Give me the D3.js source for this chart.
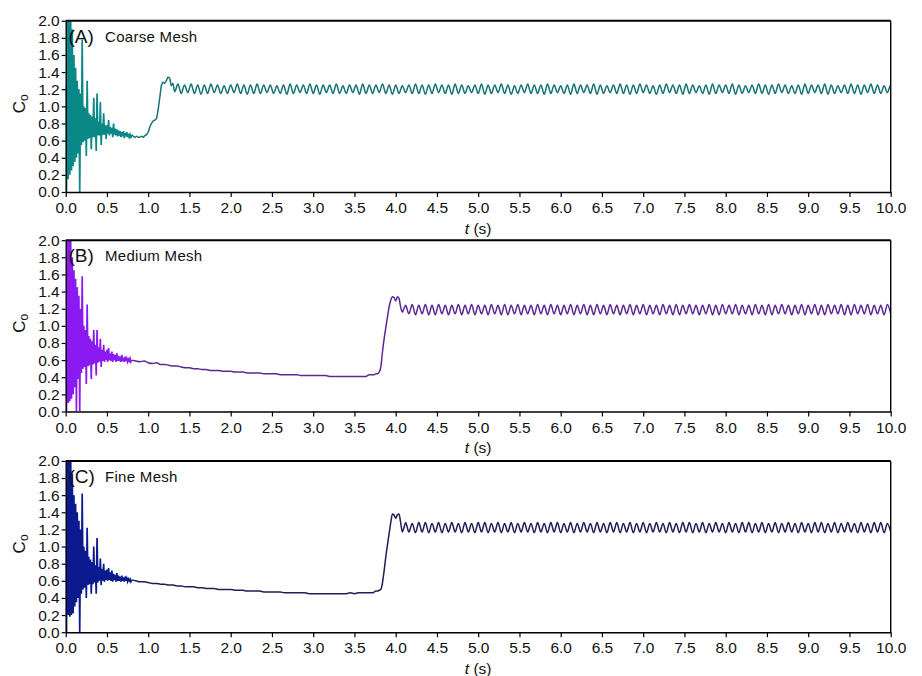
<!DOCTYPE html>
<html>
<head>
<meta charset="utf-8">
<script src="https://cdn.jsdelivr.net/npm/d3@7"></script>
<style>
  body { margin: 0; background: #fff; }
  text { font-family: "Liberation Sans", Arial, sans-serif; }
</style>
</head>
<body>
<script>
//size of the page
var width = 922;
var height = 676;

//tick labels for both axes
var xTickValues = [0, 0.5, 1, 1.5, 2, 2.5, 3, 3.5, 4, 4.5, 5, 5.5, 6, 6.5, 7,
                   7.5, 8, 8.5, 9, 9.5, 10];
var yTickValues = [0, 0.2, 0.4, 0.6, 0.8, 1.0, 1.2, 1.4, 1.6, 1.8, 2.0];

//panel labels
var panelLetters = ["(A)", "(B)", "(C)"];
var panelNames = ["Coarse Mesh", "Medium Mesh", "Fine Mesh"];

//(A) coarse mesh: start-up transient, 0.01 s apart from t = 0
var coarseEarly = [1.25, 0.00, 2.20, 0.15, 2.20, 0.20, 2.10, 0.25, 1.90, 0.30,
                   1.60, 0.35, 1.45, 0.40, 1.30, 0.45, 1.20, 0.00, 1.15, 0.55,
                   1.78, 0.58, 1.00, 0.60, 0.98, 0.42, 1.30, 0.62, 0.92, 0.63,
                   0.90, 0.50, 0.88, 0.64, 1.10, 0.64, 0.86, 0.48, 1.15, 0.66,
                   0.82, 0.66, 1.05, 0.55, 0.80, 0.67, 0.92, 0.67, 0.78, 0.62,
                   0.78, 0.68, 0.84, 0.66, 0.76, 0.68, 0.75, 0.64, 0.80, 0.67,
                   0.74, 0.66, 0.73, 0.65, 0.72, 0.66, 0.71, 0.64, 0.70, 0.65,
                   0.71, 0.63, 0.69, 0.65, 0.70, 0.64, 0.68, 0.64, 0.67, 0.63,
                   0.67];
//(A) flat part and jump, 0.02 s apart from t = 0.82
var coarseRise = [0.65, 0.64, 0.65, 0.64, 0.64, 0.65, 0.64, 0.66, 0.67, 0.70,
                  0.76, 0.80, 0.83, 0.84, 0.86, 0.96, 1.10, 1.24, 1.28, 1.27,
                  1.30, 1.34, 1.33, 1.24, 1.27];
//(A) steady oscillation, troughs and peaks 0.04 s apart from t = 1.32
var coarseWave = [1.17, 1.26, 1.15, 1.25, 1.16, 1.26, 1.15, 1.25, 1.14, 1.25,
                  1.15, 1.26, 1.16, 1.25, 1.15, 1.24, 1.15, 1.25, 1.16, 1.26,
                  1.15, 1.25, 1.14, 1.25, 1.15, 1.26, 1.15, 1.25, 1.16, 1.25,
                  1.15, 1.24, 1.15, 1.25, 1.14, 1.26, 1.15, 1.25, 1.16, 1.25,
                  1.15, 1.26, 1.15, 1.25, 1.14, 1.25, 1.16, 1.25, 1.15, 1.26,
                  1.15, 1.24, 1.15, 1.25, 1.16, 1.25, 1.14, 1.26, 1.15, 1.25,
                  1.15, 1.25, 1.16, 1.26, 1.15, 1.25, 1.14, 1.25, 1.15, 1.24,
                  1.16, 1.25, 1.15, 1.26, 1.15, 1.25, 1.14, 1.25, 1.15, 1.26,
                  1.16, 1.25, 1.15, 1.25, 1.14, 1.26, 1.15, 1.25, 1.15, 1.24,
                  1.16, 1.25, 1.15, 1.26, 1.14, 1.25, 1.15, 1.25, 1.16, 1.26,
                  1.15, 1.25, 1.14, 1.24, 1.15, 1.25, 1.16, 1.26, 1.15, 1.25,
                  1.15, 1.25, 1.14, 1.26, 1.15, 1.25, 1.16, 1.24, 1.15, 1.25,
                  1.14, 1.26, 1.15, 1.25, 1.16, 1.25, 1.15, 1.26, 1.14, 1.25,
                  1.15, 1.24, 1.16, 1.25, 1.15, 1.26, 1.15, 1.25, 1.14, 1.25,
                  1.15, 1.26, 1.16, 1.25, 1.15, 1.24, 1.14, 1.25, 1.15, 1.26,
                  1.16, 1.25, 1.15, 1.25, 1.14, 1.26, 1.15, 1.25, 1.16, 1.24,
                  1.15, 1.25, 1.14, 1.26, 1.15, 1.25, 1.16, 1.25, 1.15, 1.26,
                  1.14, 1.25, 1.15, 1.24, 1.16, 1.25, 1.15, 1.26, 1.15, 1.25,
                  1.14, 1.25, 1.15, 1.26, 1.16, 1.25, 1.15, 1.24, 1.15, 1.25,
                  1.14, 1.26, 1.15, 1.25, 1.16, 1.25, 1.15, 1.26, 1.14, 1.25,
                  1.15, 1.24, 1.16, 1.25, 1.15, 1.26, 1.15, 1.25, 1.14, 1.25,
                  1.16, 1.26, 1.15, 1.25, 1.15, 1.24, 1.16, 1.25, 1.15, 1.25];

//(B) medium mesh: start-up transient, 0.01 s apart from t = 0
var mediumEarly = [0.80, 0.00, 2.20, 0.10, 2.20, 0.12, 2.10, 0.15, 1.80, 0.20,
                   1.65, 0.28, 1.55, 0.00, 1.45, 0.38, 1.35, 0.00, 1.20, 0.45,
                   1.58, 0.50, 1.00, 0.52, 0.95, 0.32, 1.25, 0.53, 0.88, 0.54,
                   0.85, 0.38, 0.82, 0.55, 0.95, 0.56, 0.78, 0.42, 0.95, 0.57,
                   0.75, 0.58, 0.85, 0.52, 0.72, 0.59, 0.78, 0.58, 0.70, 0.60,
                   0.72, 0.58, 0.74, 0.60, 0.68, 0.59, 0.70, 0.58, 0.67, 0.60,
                   0.66, 0.58, 0.68, 0.59, 0.65, 0.59, 0.64, 0.58, 0.66, 0.59,
                   0.63, 0.58, 0.64, 0.59, 0.62, 0.58, 0.61, 0.59, 0.62, 0.58,
                   0.60];
//(B) slow decay, 0.05 s apart from t = 0.85
var mediumDecay = [0.59, 0.58, 0.59, 0.57, 0.56, 0.57, 0.55, 0.55, 0.54, 0.53,
                   0.53, 0.52, 0.51, 0.51, 0.50, 0.50, 0.49, 0.49, 0.48, 0.48,
                   0.48, 0.47, 0.47, 0.47, 0.46, 0.46, 0.46, 0.45, 0.45, 0.45,
                   0.45, 0.44, 0.44, 0.44, 0.44, 0.43, 0.43, 0.43, 0.43, 0.43,
                   0.42, 0.42, 0.42, 0.42, 0.42, 0.42, 0.42, 0.41, 0.41, 0.41,
                   0.41, 0.41, 0.41, 0.41, 0.41, 0.41];
//(B) jump, 0.02 s apart from t = 3.62
var mediumRise = [0.41, 0.41, 0.42, 0.43, 0.43, 0.43, 0.43, 0.44, 0.44, 0.46,
                  0.52, 0.70, 0.85, 0.98, 1.10, 1.22, 1.30, 1.34, 1.33, 1.29,
                  1.34, 1.32, 1.22, 1.16, 1.20];
//(B) steady oscillation, 0.04 s apart from t = 4.12
var mediumWave = [1.24, 1.14, 1.25, 1.13, 1.24, 1.14, 1.25, 1.13, 1.24, 1.13,
                  1.25, 1.14, 1.24, 1.13, 1.24, 1.14, 1.25, 1.13, 1.24, 1.14,
                  1.25, 1.13, 1.24, 1.14, 1.24, 1.13, 1.25, 1.14, 1.24, 1.13,
                  1.25, 1.13, 1.24, 1.14, 1.25, 1.13, 1.24, 1.14, 1.24, 1.13,
                  1.25, 1.14, 1.24, 1.13, 1.25, 1.14, 1.24, 1.13, 1.24, 1.14,
                  1.25, 1.13, 1.24, 1.14, 1.25, 1.13, 1.24, 1.13, 1.25, 1.14,
                  1.24, 1.13, 1.25, 1.14, 1.24, 1.13, 1.24, 1.14, 1.25, 1.13,
                  1.24, 1.14, 1.25, 1.13, 1.24, 1.14, 1.24, 1.13, 1.25, 1.14,
                  1.24, 1.13, 1.25, 1.13, 1.24, 1.14, 1.25, 1.14, 1.24, 1.13,
                  1.24, 1.14, 1.25, 1.13, 1.24, 1.13, 1.25, 1.14, 1.24, 1.14,
                  1.25, 1.13, 1.24, 1.14, 1.24, 1.13, 1.25, 1.14, 1.24, 1.13,
                  1.25, 1.13, 1.24, 1.14, 1.25, 1.14, 1.24, 1.13, 1.24, 1.14,
                  1.25, 1.13, 1.24, 1.14, 1.25, 1.13, 1.24, 1.13, 1.25, 1.14,
                  1.24, 1.14, 1.25, 1.13, 1.24, 1.13, 1.25, 1.14, 1.24, 1.14,
                  1.25, 1.13, 1.24, 1.14, 1.24, 1.13, 1.25, 1.14];

//(C) fine mesh: start-up transient, 0.01 s apart from t = 0
var fineEarly = [1.00, 0.00, 2.20, 0.20, 2.20, 0.18, 2.20, 0.20, 1.85, 0.22,
                 1.60, 0.30, 1.50, 0.35, 1.40, 0.40, 1.30, 0.00, 1.20, 0.45,
                 1.62, 0.50, 1.00, 0.52, 0.95, 0.40, 1.22, 0.55, 0.88, 0.56,
                 0.85, 0.45, 0.82, 0.56, 1.00, 0.58, 0.78, 0.45, 1.10, 0.58,
                 0.76, 0.60, 0.86, 0.55, 0.74, 0.60, 0.80, 0.59, 0.72, 0.61,
                 0.73, 0.60, 0.75, 0.61, 0.70, 0.60, 0.72, 0.59, 0.68, 0.61,
                 0.67, 0.59, 0.69, 0.60, 0.66, 0.60, 0.65, 0.59, 0.66, 0.60,
                 0.64, 0.59, 0.65, 0.60, 0.63, 0.59, 0.62, 0.60, 0.62, 0.59,
                 0.61];
//(C) slow decay, 0.05 s apart from t = 0.85
var fineDecay = [0.60, 0.59, 0.59, 0.58, 0.57, 0.57, 0.56, 0.56, 0.55, 0.55,
                 0.54, 0.54, 0.53, 0.53, 0.53, 0.52, 0.52, 0.51, 0.51, 0.51,
                 0.50, 0.50, 0.50, 0.50, 0.49, 0.49, 0.49, 0.48, 0.48, 0.48,
                 0.48, 0.47, 0.47, 0.47, 0.47, 0.47, 0.46, 0.46, 0.46, 0.46,
                 0.46, 0.46, 0.45, 0.45, 0.45, 0.45, 0.45, 0.45, 0.45, 0.45,
                 0.45, 0.45, 0.46, 0.45, 0.46, 0.46, 0.46, 0.46];
//(C) jump, 0.02 s apart from t = 3.72
var fineRise = [0.46, 0.47, 0.48, 0.48, 0.49, 0.50, 0.58, 0.72, 0.88, 1.02,
                1.15, 1.28, 1.38, 1.37, 1.33, 1.37, 1.38, 1.28, 1.17, 1.22];
//(C) steady oscillation, 0.04 s apart from t = 4.12
var fineWave = [1.28, 1.17, 1.27, 1.16, 1.28, 1.17, 1.28, 1.16, 1.27, 1.17,
                1.28, 1.16, 1.27, 1.17, 1.28, 1.17, 1.27, 1.16, 1.28, 1.17,
                1.27, 1.16, 1.28, 1.17, 1.28, 1.16, 1.27, 1.17, 1.28, 1.16,
                1.27, 1.17, 1.28, 1.16, 1.27, 1.17, 1.28, 1.17, 1.27, 1.16,
                1.28, 1.17, 1.27, 1.16, 1.28, 1.17, 1.28, 1.16, 1.27, 1.17,
                1.28, 1.16, 1.27, 1.17, 1.28, 1.17, 1.27, 1.16, 1.28, 1.17,
                1.27, 1.16, 1.28, 1.17, 1.28, 1.16, 1.27, 1.17, 1.28, 1.16,
                1.27, 1.17, 1.28, 1.16, 1.27, 1.17, 1.28, 1.17, 1.27, 1.16,
                1.28, 1.17, 1.27, 1.16, 1.28, 1.17, 1.28, 1.16, 1.27, 1.17,
                1.28, 1.16, 1.27, 1.17, 1.28, 1.17, 1.27, 1.16, 1.28, 1.17,
                1.27, 1.16, 1.28, 1.17, 1.28, 1.16, 1.27, 1.17, 1.28, 1.16,
                1.27, 1.17, 1.28, 1.16, 1.27, 1.17, 1.28, 1.17, 1.27, 1.16,
                1.28, 1.17, 1.27, 1.16, 1.28, 1.17, 1.28, 1.16, 1.27, 1.17,
                1.28, 1.16, 1.27, 1.17, 1.28, 1.17, 1.27, 1.16, 1.28, 1.17,
                1.27, 1.16, 1.28, 1.17, 1.28, 1.16, 1.27, 1.17];

//plot area placement
var plotLeft = 65.7;
var plotRight = 890.7;
var plotHeight = 171.3;
var panelTops = [20.7, 240.2, 460.9];

//colours: dense start-up part and the thinner line after it
var earlyColors = ["#0a8787", "#8a19f2", "#0c1a8f"];
var lineColors = ["#177373", "#5b2893", "#1d1f55"];

//turn a value list into points, given the time of the first one and the step
function toPoints(values, t0, dt) {
  return values.map(function(v, i) { return {t: t0 + i * dt, v: v}; });
}

var series = [
  {early: toPoints(coarseEarly, 0, 0.01),
   rest: toPoints(coarseRise, 0.82, 0.02)
           .concat(toPoints(coarseWave, 1.32, 0.04))},
  {early: toPoints(mediumEarly, 0, 0.01),
   rest: toPoints(mediumDecay, 0.85, 0.05)
           .concat(toPoints(mediumRise, 3.62, 0.02))
           .concat(toPoints(mediumWave, 4.12, 0.04))},
  {early: toPoints(fineEarly, 0, 0.01),
   rest: toPoints(fineDecay, 0.85, 0.05)
           .concat(toPoints(fineRise, 3.72, 0.02))
           .concat(toPoints(fineWave, 4.12, 0.04))}
];

var svg = d3.select("body")
            .append("svg")
            .attr("width", width)
            .attr("height", height);

//shared x scale
var xScale = d3.scaleLinear()
               .domain([0, 10])
               .range([plotLeft, plotRight]);

var fmt = d3.format(".1f");

panelTops.forEach(function(top, p) {
  var bottom = top + plotHeight;
  var yScale = d3.scaleLinear()
                 .domain([0, 2])
                 .range([bottom, top]);

  //clip the curves to the plot box
  svg.append("clipPath")
     .attr("id", "clip" + p)
     .append("rect")
     .attr("x", plotLeft)
     .attr("y", top)
     .attr("width", plotRight - plotLeft)
     .attr("height", plotHeight);

  var g = svg.append("g").attr("clip-path", "url(#clip" + p + ")");

  var lineSharp = d3.line()
                    .x(function(d) { return xScale(d.t); })
                    .y(function(d) { return yScale(d.v); });
  var lineSmooth = d3.line()
                     .curve(d3.curveMonotoneX)
                     .x(function(d) { return xScale(d.t); })
                     .y(function(d) { return yScale(d.v); });

  var s = series[p];
  //the rest of the curve starts at the last early point
  g.append("path")
   .attr("d", lineSmooth([s.early[s.early.length - 1]].concat(s.rest)))
   .attr("fill", "none")
   .attr("stroke", lineColors[p])
   .attr("stroke-width", 1.5);
  g.append("path")
   .attr("d", lineSharp(s.early))
   .attr("fill", "none")
   .attr("stroke", earlyColors[p])
   .attr("stroke-width", 1.7);

  //bottom axis
  var xAxis = svg.append("g")
     .attr("transform", "translate(0," + bottom + ")")
     .call(d3.axisBottom(xScale)
             .tickValues(xTickValues)
             .tickFormat(fmt)
             .tickSize(5)
             .tickSizeOuter(0)
             .tickPadding(5));
  //left axis
  var yAxis = svg.append("g")
     .attr("transform", "translate(" + plotLeft + ",0)")
     .call(d3.axisLeft(yScale)
             .tickValues(yTickValues)
             .tickFormat(fmt)
             .tickSize(4)
             .tickSizeOuter(0)
             .tickPadding(2));
  [xAxis, yAxis].forEach(function(a) {
    a.attr("font-size", 15.5)
     .attr("font-family", "Liberation Sans, Arial, sans-serif");
    a.select(".domain").attr("stroke", "#000").attr("stroke-width", 1.4);
    a.selectAll(".tick line").attr("stroke", "#000").attr("stroke-width", 1.2);
    a.selectAll(".tick text").attr("fill", "#111");
  });

  //frame: right and top sides
  svg.append("line")
     .attr("x1", plotRight).attr("x2", plotRight)
     .attr("y1", top).attr("y2", bottom)
     .attr("stroke", "#000").attr("stroke-width", 1.4);
  svg.append("line")
     .attr("x1", plotLeft).attr("x2", plotRight)
     .attr("y1", top).attr("y2", top)
     .attr("stroke", "#000").attr("stroke-width", 2);

  //panel label
  svg.append("text")
     .attr("x", 68.5)
     .attr("y", top + 22)
     .attr("font-size", 19)
     .attr("fill", "#111")
     .text(panelLetters[p]);
  svg.append("text")
     .attr("x", 105)
     .attr("y", top + 21)
     .attr("font-size", 15)
     .attr("letter-spacing", 0.3)
     .attr("fill", "#111")
     .text(panelNames[p]);

  //y axis title, C with subscript o
  var yTitle = svg.append("text")
     .attr("transform", "rotate(-90)")
     .attr("x", -(top + 83))
     .attr("y", 25)
     .attr("text-anchor", "middle")
     .attr("font-size", 17)
     .attr("fill", "#111");
  yTitle.append("tspan").text("C");
  yTitle.append("tspan")
        .attr("font-size", 12)
        .attr("dy", 3)
        .text("o");

  //x axis title
  var xTitle = svg.append("text")
     .attr("x", (plotLeft + plotRight) / 2)
     .attr("y", bottom + 41.5)
     .attr("text-anchor", "middle")
     .attr("font-size", 15.5)
     .attr("fill", "#111");
  xTitle.append("tspan").attr("font-style", "italic").text("t");
  xTitle.append("tspan").text(" (s)");
});
</script>
</body>
</html>
